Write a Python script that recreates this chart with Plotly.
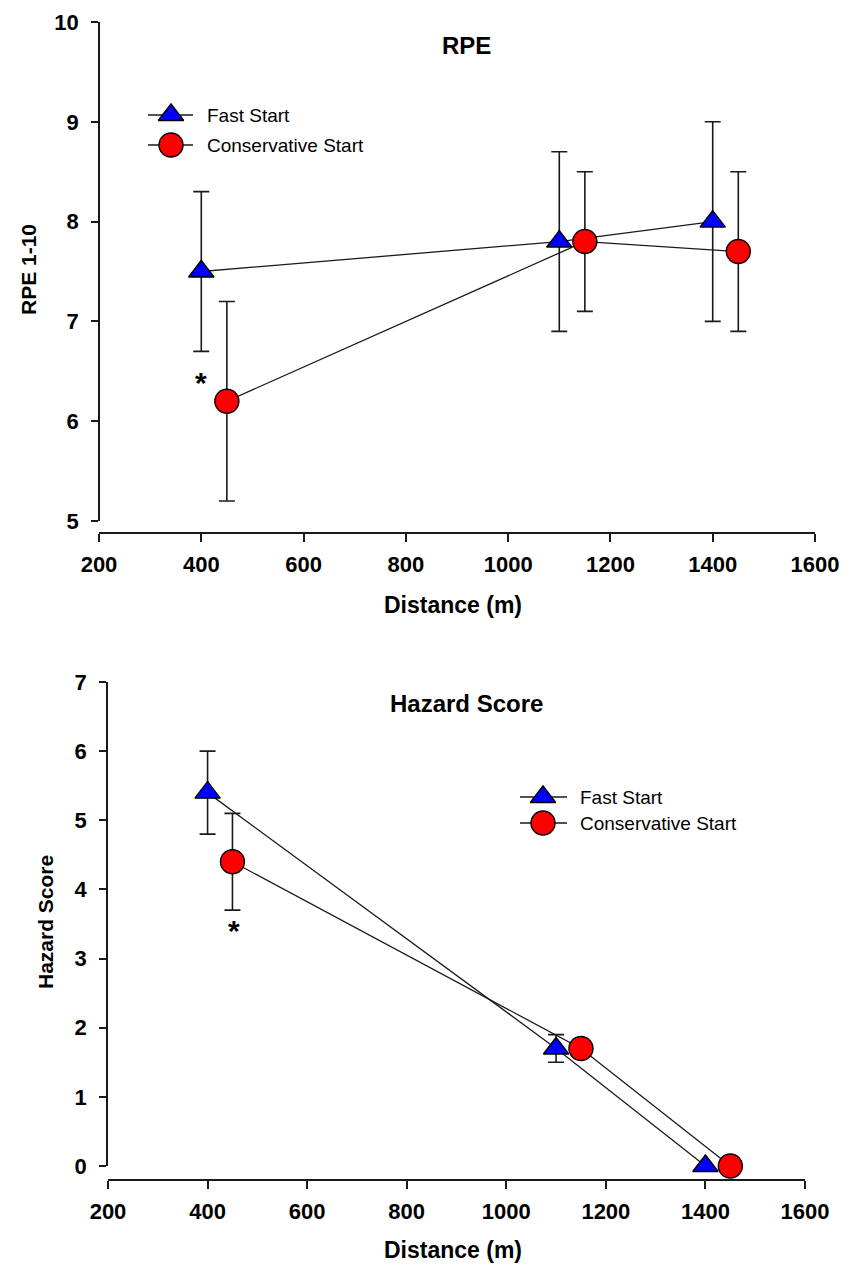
import plotly.graph_objects as go

W, H = 849, 1270

# ---------------- data ----------------
rpe_fast_x = [400, 1100, 1400]
rpe_fast_y = [7.5, 7.8, 8.0]
rpe_fast_err = [0.8, 0.9, 1.0]
rpe_cons_x = [450, 1150, 1450]
rpe_cons_y = [6.2, 7.8, 7.7]
rpe_cons_err = [1.0, 0.7, 0.8]

haz_fast_x = [400, 1100, 1400]
haz_fast_y = [5.4, 1.7, 0.0]
haz_fast_err = [0.6, 0.2, 0.0]
haz_cons_x = [450, 1150, 1450]
haz_cons_y = [4.4, 1.7, 0.0]
haz_cons_err = [0.7, 0.0, 0.0]

x_ticks = [200, 400, 600, 800, 1000, 1200, 1400, 1600]
rpe_ticks = [5, 6, 7, 8, 9, 10]
haz_ticks = [0, 1, 2, 3, 4, 5, 6, 7]
series_names = ["Fast Start", "Conservative Start"]

# significance markers (data coords)
rpe_star = (400, 6.45)
haz_star = (453, 3.5)

# ---------------- helpers ----------------
def px(x):
    return x / W

def py(y):
    return 1 - y / H

FONT = "Arial, Liberation Sans, sans-serif"
BLUE = "#0000FF"
RED = "#FF0000"
LINE = "#1a1a1a"

fig = go.Figure()

def add_series(x, y, err, sym, color, size, xa, ya):
    fig.add_trace(go.Scatter(
        x=x, y=y, mode="lines+markers", xaxis=xa, yaxis=ya,
        line=dict(color=LINE, width=1.3),
        marker=dict(symbol=sym, size=size, color=color,
                    line=dict(color="black", width=1.4)),
        error_y=dict(type="data", array=err, visible=True,
                     color=LINE, thickness=1.6, width=8),
        cliponaxis=False, showlegend=False, hoverinfo="x+y",
    ))

add_series(rpe_fast_x, rpe_fast_y, rpe_fast_err, "triangle-up", BLUE, 22, "x", "y")
add_series(rpe_cons_x, rpe_cons_y, rpe_cons_err, "circle", RED, 24, "x", "y")
add_series(haz_fast_x, haz_fast_y, haz_fast_err, "triangle-up", BLUE, 22, "x2", "y2")
add_series(haz_cons_x, haz_cons_y, haz_cons_err, "circle", RED, 24, "x2", "y2")

# ---------------- manual legend keys (pixel overlay axes) ----------------
legend_keys = [
    (148, 171, 193, 115, "triangle-up", BLUE, 205, series_names[0]),
    (148, 171, 193, 145, "circle", RED, 205, series_names[1]),
    (520, 543, 567, 797, "triangle-up", BLUE, 578, series_names[0]),
    (520, 543, 567, 823, "circle", RED, 578, series_names[1]),
]
annotations = []
for x0, xm, x1, yk, sym, col, tx, name in legend_keys:
    fig.add_trace(go.Scatter(
        x=[x0, x1], y=[yk, yk], mode="lines", xaxis="x3", yaxis="y3",
        line=dict(color=LINE, width=1.3), showlegend=False, hoverinfo="skip"))
    fig.add_trace(go.Scatter(
        x=[xm], y=[yk], mode="markers", xaxis="x3", yaxis="y3",
        marker=dict(symbol=sym, size=22 if sym == "triangle-up" else 24, color=col,
                    line=dict(color="black", width=1.4)),
        showlegend=False, hoverinfo="skip", cliponaxis=False))
    annotations.append(dict(
        x=px(tx), y=py(yk), xref="paper", yref="paper", text=name,
        showarrow=False, xanchor="left", yanchor="middle",
        font=dict(family=FONT, size=19, color="black")))

# ---------------- axes ----------------
tickfont = dict(family=FONT, size=22, color="black", weight="bold")
common_x = dict(range=[200, 1600], tickvals=x_ticks, showline=True, linecolor=LINE,
                linewidth=1.5, ticks="outside", ticklen=8, tickwidth=1.5,
                tickcolor=LINE, showgrid=False, zeroline=False, tickfont=tickfont,
                anchor="free", ticklabelstandoff=4, automargin=False)
common_y = dict(showline=True, linecolor=LINE, linewidth=1.5, ticks="outside",
                ticklen=7, tickwidth=1.5, tickcolor=LINE, showgrid=False,
                zeroline=False, tickfont=tickfont, anchor="free", ticklabelstandoff=8,
                automargin=False)

fig.update_layout(
    width=W, height=H, autosize=False,
    margin=dict(l=0, r=0, t=0, b=0, pad=0, autoexpand=False),
    paper_bgcolor="white", plot_bgcolor="rgba(0,0,0,0)",
    showlegend=False,
    xaxis=dict(domain=[px(99), px(815)], position=py(533), **common_x),
    yaxis=dict(domain=[py(521), py(22)], range=[5, 10], tickvals=rpe_ticks,
               position=px(99), **common_y),
    xaxis2=dict(domain=[px(108), px(805)], position=py(1180), **common_x),
    yaxis2=dict(domain=[py(1166), py(682)], range=[0, 7], tickvals=haz_ticks,
                position=px(107), **common_y),
    xaxis3=dict(domain=[0, 1], range=[0, W], visible=False, anchor="y3",
                fixedrange=True, automargin=False),
    yaxis3=dict(domain=[0, 1], range=[H, 0], visible=False, anchor="x3",
                fixedrange=True, automargin=False),
)

bold = lambda s: dict(family=FONT, size=s, color="black", weight="bold")

def label(x, y, text, size, angle=0):
    return dict(x=px(x), y=py(y), xref="paper", yref="paper", text=text,
                showarrow=False, xanchor="center", yanchor="middle",
                textangle=angle, font=bold(size))

annotations += [
    label(466, 45, "RPE", 24),
    label(466, 703, "Hazard Score", 24),
    label(453, 605, "Distance (m)", 23),
    label(453, 1250, "Distance (m)", 23),
    label(28, 270, "RPE 1-10", 21, -90),
    label(45, 922, "Hazard Score", 21, -90),
    dict(x=rpe_star[0], y=rpe_star[1], xref="x", yref="y", text="*",
         showarrow=False, yshift=-6, xanchor="center", yanchor="middle", font=bold(30)),
    dict(x=haz_star[0], y=haz_star[1], xref="x2", yref="y2", text="*",
         showarrow=False, yshift=-6, xanchor="center", yanchor="middle", font=bold(30)),
]
fig.update_layout(annotations=annotations)

fig.write_html("out.html")
